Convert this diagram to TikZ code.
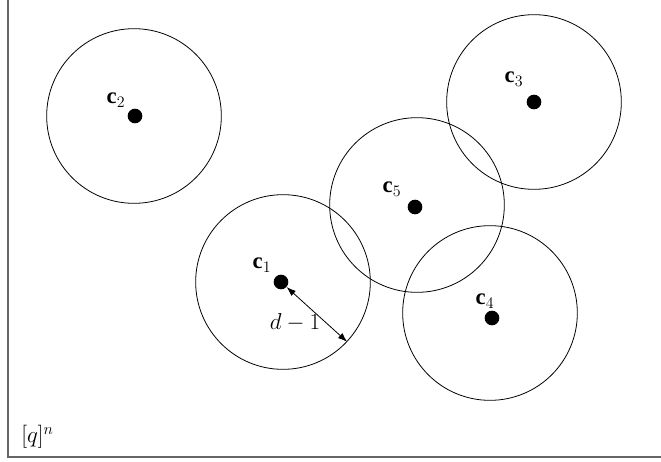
\documentclass[tikz,border=0pt]{standalone}
\usepackage{fontspec}
\setmainfont{Liberation Serif}
\usepackage{tikz}
\usetikzlibrary{arrows.meta}

\begin{document}
\begin{tikzpicture}[x=0.75pt,y=-0.75pt,
  ball/.style={draw=black,line width=0.6pt,circle,inner sep=0pt,minimum size=131pt},
  centre/.style={fill=black,circle,inner sep=0pt,minimum size=11pt},
  clabel/.style={inner sep=0pt,font=\fontsize{17}{20}\selectfont}]
\path[use as bounding box] (0,0) rectangle (661,461);
\begin{scope}
\path[clip] (0,0) rectangle (661,461);
\draw[draw=gray!80!black,line width=1.2pt] (8,457) rectangle (680,-20);
\end{scope}

\node[ball] (k2) at (134,116) {};
\node[ball] (k3) at (534,102) {};
\node[ball] (k5) at (417,205) {};
\node[ball] (k1) at (283,282) {};
\node[ball] (k4) at (490,313) {};

\node[centre] (d2) at (135,116) {};
\node[centre] (d3) at (534,102) {};
\node[centre] (d5) at (415,207) {};
\node[centre] (d1) at (281,282) {};
\node[centre] (d4) at (492,318) {};

\node[clabel] (l2) at (116,100) {$\mathbf{c}_2$};
\node[clabel] (l3) at (514,79) {$\mathbf{c}_3$};
\node[clabel] (l5) at (392,189) {$\mathbf{c}_5$};
\node[clabel] (l1) at (262,265) {$\mathbf{c}_1$};
\node[clabel] (l4) at (485,301) {$\mathbf{c}_4$};

\coordinate (rim) at (k1.-43);
\draw[{Latex[length=7pt,width=5pt]}-{Latex[length=7pt,width=5pt]},line width=0.6pt] (d1) -- (rim);
\node[clabel] (rad) at (295,322) {$d-1$};

\node[clabel,anchor=west] (space) at (21,437) {$[q]^n$};
\end{tikzpicture}
\end{document}
